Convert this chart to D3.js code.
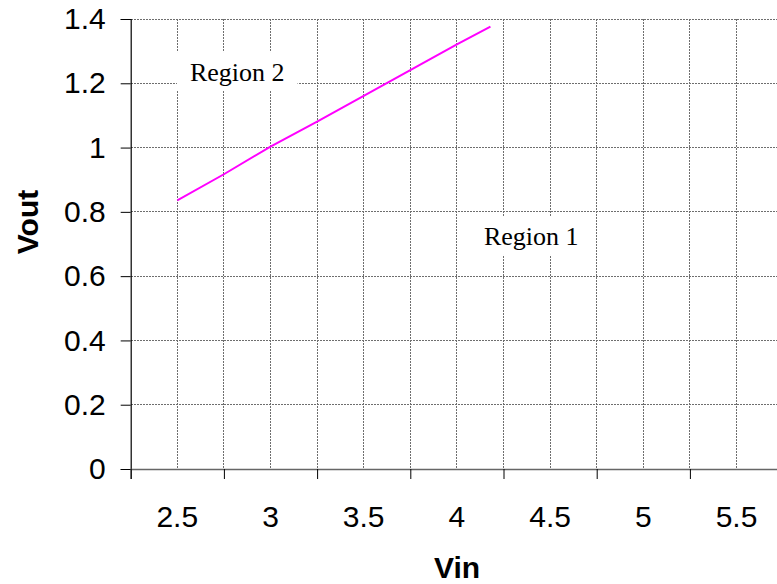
<!DOCTYPE html>
<html>
<head>
<meta charset="utf-8">
<script src="https://cdn.jsdelivr.net/npm/d3@7"></script>
<style>
  html, body { margin: 0; padding: 0; background: #fff; }
  svg { display: block; }
</style>
</head>
<body>
<svg id="chart" width="777" height="584"></svg>
<script>
// ---- data ----
const vin  = [2.5, 2.75, 3.0, 3.25, 3.5, 3.75, 4.0, 4.18];
const vout = [0.836, 0.917, 1.003, 1.081, 1.161, 1.241, 1.321, 1.376];
const xTickLabels = [2.5, 3, 3.5, 4, 4.5, 5, 5.5];
const xTickMarks = [2.25, 2.75, 3.25, 3.75, 4.25, 4.75, 5.25, 5.75];
const xGrid = [2.5, 2.75, 3, 3.25, 3.5, 3.75, 4, 4.25, 4.5, 4.75, 5, 5.25, 5.5, 5.75];
const yTicks = [0, 0.2, 0.4, 0.6, 0.8, 1, 1.2, 1.4];
const regionLabels = ["Region 2", "Region 1"];
const regionPos = [[2.498, 1.235], [4.075, 0.725]]; // [Vin, Vout] of label box left-middle

// ---- layout ----
const svg = d3.select("#chart");
const x = d3.scaleLinear().domain([2.25, 5.75]).range([130.7, 783.1]);
const y = d3.scaleLinear().domain([0, 1.4]).range([469, 19]);

const gridColor = "#6e6e6e";

// horizontal gridlines
svg.append("g").selectAll("line").data(yTicks.filter(d => d > 0)).join("line")
  .attr("x1", x(2.25)).attr("x2", x(5.75))
  .attr("y1", d => y(d)).attr("y2", d => y(d))
  .attr("stroke", gridColor).attr("stroke-width", 1)
  .attr("stroke-dasharray", "2,1").attr("shape-rendering", "crispEdges");

// vertical gridlines
svg.append("g").selectAll("line").data(xGrid).join("line")
  .attr("x1", d => x(d)).attr("x2", d => x(d))
  .attr("y1", y(1.4)).attr("y2", y(0))
  .attr("stroke", gridColor).attr("stroke-width", 1)
  .attr("stroke-dasharray", "2,1").attr("shape-rendering", "crispEdges");

// region label boxes (white background)
const boxes = svg.append("g");
regionLabels.forEach((t, i) => {
  const cx = x(regionPos[i][0]), cy = y(regionPos[i][1]);
  const g = boxes.append("g");
  const txt = g.append("text")
    .attr("x", cx + 13).attr("y", cy + 9)
    .attr("font-family", "'Liberation Serif', 'Times New Roman', serif")
    .attr("font-size", 26).attr("fill", "#000").text(t);
  const bb = txt.node().getBBox();
  g.insert("rect", "text")
    .attr("x", cx).attr("y", cy - 20)
    .attr("width", bb.width + 26).attr("height", 39)
    .attr("fill", "#fff");
});

// line
svg.append("path")
  .datum(vin.map((v, i) => [v, vout[i]]))
  .attr("fill", "none").attr("stroke", "#ff00ff").attr("stroke-width", 2)
  .attr("d", d3.line().x(d => x(d[0])).y(d => y(d[1])));

// y axis
const yAxis = svg.append("g").attr("transform", `translate(${x(2.25)},0)`)
  .call(d3.axisLeft(y).tickValues(yTicks).tickSize(10).tickPadding(15)
    .tickFormat(d => d3.format("~g")(d)));
yAxis.select(".domain").attr("stroke", "#000").attr("stroke-width", 1.2);
yAxis.selectAll(".tick line").attr("stroke", "#000");
yAxis.selectAll("text")
  .attr("font-family", "'Liberation Sans', Arial, sans-serif")
  .attr("font-size", 30).attr("fill", "#000");

// x axis
const xAxis = svg.append("g").attr("transform", `translate(0,${y(0)})`)
  .call(d3.axisBottom(x).tickValues(xTickMarks).tickSize(10).tickFormat(""));
xAxis.select(".domain").attr("stroke", "#666").attr("stroke-width", 1.6);
xAxis.selectAll(".tick line").attr("stroke", "#000");

svg.append("g").selectAll("text").data(xTickLabels).join("text")
  .attr("x", d => x(d)).attr("y", 527)
  .attr("text-anchor", "middle")
  .attr("font-family", "'Liberation Sans', Arial, sans-serif")
  .attr("font-size", 30).attr("fill", "#000")
  .text(d => d);

// axis titles
svg.append("text").attr("x", 457).attr("y", 578)
  .attr("text-anchor", "middle")
  .attr("font-family", "'Liberation Sans', Arial, sans-serif")
  .attr("font-weight", "bold").attr("font-size", 30).text("Vin");

svg.append("text")
  .attr("transform", "translate(38,222) rotate(-90)")
  .attr("text-anchor", "middle")
  .attr("font-family", "'Liberation Sans', Arial, sans-serif")
  .attr("font-weight", "bold").attr("font-size", 30).text("Vout");
</script>
</body>
</html>
